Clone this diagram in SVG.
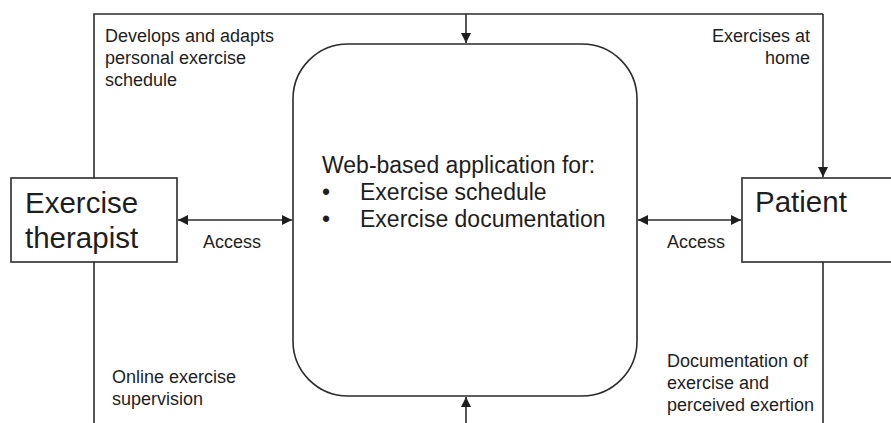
<svg xmlns="http://www.w3.org/2000/svg" width="891" height="423" viewBox="0 0 891 423">
  <style>
    .ln { fill: none; stroke: #2b2b2b; stroke-width: 1.6; }
    .box { fill: #ffffff; stroke: #2b2b2b; stroke-width: 1.6; }
    text { font-family: "Liberation Sans", Arial, sans-serif; fill: #1e1e1e; }
    .sm { font-size: 18px; }
    .md { font-size: 23px; }
    .lg { font-size: 29.5px; }
  </style>
  <defs>
    <marker id="arr" viewBox="0 0 10 10" refX="10" refY="5" markerWidth="11" markerHeight="10" markerUnits="userSpaceOnUse" orient="auto-start-reverse">
      <path d="M0,0 L10,5 L0,10 z" fill="#1e1e1e"/>
    </marker>
  </defs>

  <g id="connectors">
    <!-- outer frame: therapist side, top, patient side -->
    <path class="ln" d="M94,423 L94,14 L823,14"/>
    <path class="ln" d="M823,14 L823,177" marker-end="url(#arr)"/>
    <path class="ln" d="M823,262 L823,423"/>
    <!-- into the application from the top and bottom -->
    <path class="ln" d="M466,14 L466,43" marker-end="url(#arr)"/>
    <path class="ln" d="M466,423 L466,397" marker-end="url(#arr)"/>
    <!-- two-way access links -->
    <path class="ln" d="M178,220 L292,220" marker-start="url(#arr)" marker-end="url(#arr)"/>
    <path class="ln" d="M638,220 L741,220" marker-start="url(#arr)" marker-end="url(#arr)"/>
  </g>

  <g id="therapist">
    <rect class="box" x="11" y="178" width="166" height="84"/>
    <text class="lg" x="25" y="213">Exercise</text>
    <text class="lg" x="25" y="248">therapist</text>
  </g>

  <g id="patient">
    <rect class="box" x="742" y="178" width="160" height="84"/>
    <text class="lg" x="755" y="212">Patient</text>
  </g>

  <g id="application">
    <rect class="box" x="293" y="44" width="344" height="352" rx="55" ry="55"/>
    <text class="md" x="322" y="173">Web-based application for:</text>
    <text class="md" x="322" y="200">•</text>
    <text class="md" x="360" y="200">Exercise schedule</text>
    <text class="md" x="322" y="227">•</text>
    <text class="md" x="360" y="227">Exercise documentation</text>
  </g>

  <g id="labels">
    <text class="sm" x="105" y="42">Develops and adapts</text>
    <text class="sm" x="105" y="64">personal exercise</text>
    <text class="sm" x="105" y="86">schedule</text>

    <text class="sm" x="810" y="42" text-anchor="end">Exercises at</text>
    <text class="sm" x="810" y="64" text-anchor="end">home</text>

    <text class="sm" x="203" y="248">Access</text>
    <text class="sm" x="667" y="248">Access</text>

    <text class="sm" x="112" y="383">Online exercise</text>
    <text class="sm" x="112" y="405">supervision</text>

    <text class="sm" x="667" y="367">Documentation of</text>
    <text class="sm" x="667" y="389">exercise and</text>
    <text class="sm" x="667" y="411">perceived exertion</text>
  </g>
</svg>
